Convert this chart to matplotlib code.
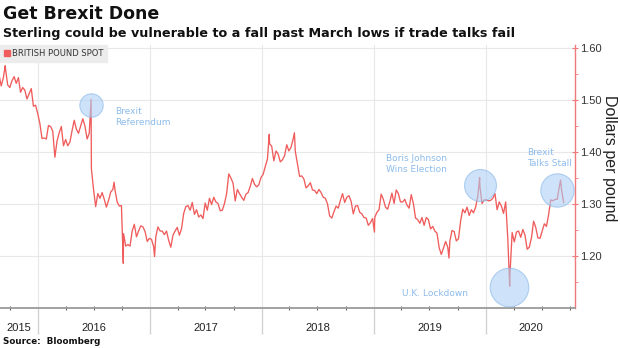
import matplotlib
matplotlib.use("Agg")
import matplotlib.pyplot as plt
import matplotlib.dates as mdates
from matplotlib.lines import Line2D
import pandas as pd

# GBP/USD spot, weekly (Friday) values by calendar year
gbp_2015 = [1.548, 1.527, 1.543, 1.560, 1.529, 1.524, 1.537, 1.545, 1.532, 1.543,
            1.515, 1.524, 1.519, 1.502, 1.512, 1.522, 1.488, 1.490]
gbp_2016 = [1.474, 1.455, 1.426, 1.427, 1.425,
            1.451, 1.449, 1.440, 1.390,
            1.421, 1.437, 1.449, 1.412,
            1.424, 1.412, 1.419, 1.441, 1.461,
            1.444, 1.436, 1.450, 1.464,
            1.450, 1.425, 1.436, 1.368,
            1.328, 1.295, 1.320, 1.311, 1.322,
            1.309, 1.294, 1.307, 1.323,
            1.328, 1.327, 1.304, 1.296, 1.297,
            1.243, 1.219, 1.222, 1.219,
            1.248, 1.261, 1.237, 1.248,
            1.258, 1.256, 1.247, 1.228, 1.234]
gbp_2017 = [1.232, 1.218, 1.237, 1.256,
            1.248, 1.248, 1.241, 1.248,
            1.230, 1.217, 1.240, 1.248, 1.255,
            1.240, 1.253, 1.282, 1.295,
            1.297, 1.288, 1.303, 1.280,
            1.289, 1.275, 1.279, 1.272, 1.302,
            1.288, 1.311, 1.299, 1.313,
            1.304, 1.301, 1.287, 1.288,
            1.301, 1.320, 1.358, 1.350, 1.340,
            1.306, 1.328, 1.320, 1.313,
            1.307, 1.319, 1.322, 1.334,
            1.349, 1.338, 1.333, 1.337, 1.351]
gbp_2018 = [1.357, 1.372, 1.386, 1.416,
            1.411, 1.383, 1.402, 1.396,
            1.381, 1.385, 1.393, 1.414, 1.402,
            1.409, 1.425, 1.401, 1.377,
            1.353, 1.354, 1.348, 1.331,
            1.335, 1.341, 1.327, 1.326, 1.320,
            1.328, 1.322, 1.313, 1.311,
            1.300, 1.277, 1.273, 1.285, 1.296,
            1.292, 1.307, 1.320, 1.303,
            1.313, 1.316, 1.305, 1.281,
            1.296, 1.297, 1.284, 1.281, 1.274,
            1.273, 1.259, 1.264, 1.272]
gbp_2019 = [1.274, 1.284, 1.289, 1.319,
            1.309, 1.294, 1.290, 1.304,
            1.321, 1.301, 1.327, 1.320, 1.304,
            1.304, 1.309, 1.298, 1.292,
            1.318, 1.301, 1.273, 1.270, 1.263,
            1.274, 1.259, 1.274, 1.270,
            1.252, 1.257, 1.248, 1.244,
            1.216, 1.203, 1.215, 1.228, 1.217,
            1.229, 1.249, 1.247, 1.229,
            1.233, 1.267, 1.290, 1.283,
            1.294, 1.278, 1.289, 1.283, 1.294,
            1.315, 1.333, 1.301, 1.308]
gbp_2020 = [1.308, 1.306, 1.307, 1.311, 1.320,
            1.289, 1.304, 1.296, 1.282,
            1.304, 1.232, 1.165, 1.245,
            1.227, 1.246, 1.248, 1.236,
            1.251, 1.240, 1.213, 1.217, 1.235,
            1.267, 1.255, 1.235, 1.234,
            1.248, 1.262, 1.257, 1.280, 1.308,
            1.306, 1.309, 1.309, 1.334,
            1.328, 1.303]
year_first_friday = ["2015-08-28", "2016-01-01", "2017-01-06",
                     "2018-01-05", "2019-01-04", "2020-01-03"]

# Intraweek highs and lows
extreme_dates = ["2015-09-17", "2016-06-23", "2016-09-06", "2016-10-06",
                 "2017-01-16", "2018-01-25", "2018-04-17", "2019-01-03",
                 "2019-09-03", "2019-12-12", "2020-03-19", "2020-09-01"]
extreme_values = [1.566, 1.501, 1.342, 1.186,
                  1.199, 1.434, 1.437, 1.246,
                  1.196, 1.351, 1.142, 1.346]

# Highlighted events
event_labels = ["Brexit\nReferendum", "Boris Johnson\nWins Election",
                "U.K. Lockdown", "Brexit\nTalks Stall"]
event_dates = ["2016-06-24", "2019-12-14", "2020-03-18", "2020-08-21"]
event_values = [1.490, 1.337, 1.141, 1.327]
event_radius_px = [11.7, 16.0, 19.3, 16.7]
label_dates = ["2016-09-09", "2019-02-11", "2019-04-02", "2020-05-14"]
label_values = [1.467, 1.377, 1.128, 1.389]

year_labels = ["2015", "2016", "2017", "2018", "2019", "2020"]
y_ticks = [1.20, 1.30, 1.40, 1.50, 1.60]

# Assemble the series
parts = []
for start, vals in zip(year_first_friday,
                       [gbp_2015, gbp_2016, gbp_2017, gbp_2018, gbp_2019, gbp_2020]):
    idx = pd.date_range(start, periods=len(vals), freq="W-FRI")
    parts.append(pd.Series(vals, index=idx))
parts.append(pd.Series(extreme_values, index=pd.to_datetime(extreme_dates)))
series = pd.concat(parts).sort_index()

DPI = 100
W, H = 620, 348
fig = plt.figure(figsize=(W / DPI, H / DPI), dpi=DPI)
ax_left, ax_right, ax_top, ax_bottom = 0, 575, 45, 308
ax = fig.add_axes([ax_left / W, 1 - ax_bottom / H,
                   (ax_right - ax_left) / W, (ax_bottom - ax_top) / H])

LINE = "#f05c5c"
BLUE_TXT = "#8dbbea"
TICK_FONT = "Liberation Sans"

ax.plot(series.index, series.values, color=LINE, lw=0.95, zorder=3)

ax.set_xlim(pd.Timestamp("2015-08-31"), pd.Timestamp("2020-10-18"))
ax.set_ylim(1.10, 1.6058)

# Grid
ax.set_axisbelow(True)
ax.grid(True, which="major", axis="both", color="#e8e8e8", lw=0.8)

# Spines
for s in ["left", "top"]:
    ax.spines[s].set_visible(False)
ax.spines["right"].set_color("#f07a7a")
ax.spines["right"].set_linewidth(1.0)
ax.spines["bottom"].set_color("#9a9a9a")
ax.spines["bottom"].set_linewidth(1.3)

# Y axis on the right
ax.yaxis.tick_right()
ax.set_yticks(y_ticks)
ax.set_yticklabels([f"{v:.2f}" for v in y_ticks])
ax.set_yticks([1.15, 1.25, 1.35, 1.45, 1.55], minor=True)
ax.tick_params(axis="y", which="major", direction="inout", length=4, width=0.8,
               color="#f07a7a", labelcolor="#333333", labelsize=8, pad=2)
ax.tick_params(axis="y", which="minor", direction="out", length=2, width=0.6,
               color="#f07a7a")
for lbl in ax.get_yticklabels():
    lbl.set_fontfamily(TICK_FONT)
fig.text(609 / W, 1 - 158 / H, "Dollars per pound", rotation=270,
         fontsize=11.5, family=TICK_FONT, color="#222222",
         ha="center", va="center")

# X axis: year separators and quarterly ticks
ax.xaxis.set_major_locator(mdates.YearLocator())
ax.xaxis.set_minor_locator(mdates.MonthLocator(bymonth=[1, 4, 7, 10]))
ax.tick_params(axis="x", which="major", direction="out", length=19, width=0.9,
               color="#cfcfcf", labelbottom=False)
ax.tick_params(axis="x", which="minor", direction="inout", length=3, width=0.7,
               color="#555555")

x0, x1 = ax.get_xlim()
for yl in year_labels:
    a = max(mdates.date2num(pd.Timestamp(f"{yl}-01-01")), x0)
    b = min(mdates.date2num(pd.Timestamp(f"{int(yl) + 1}-01-01")), x1)
    ax.annotate(yl, xy=((a + b) / 2, 0), xycoords=("data", "axes fraction"),
                xytext=(0, -20), textcoords="offset pixels",
                ha="center", va="center", fontsize=8, family=TICK_FONT,
                color="#222222")

# Event circles and labels
for d, v, r in zip(event_dates, event_values, event_radius_px):
    size = (2 * r * 72 / DPI) ** 2
    ax.scatter([pd.Timestamp(d)], [v], s=size, color="#aed0f5", alpha=0.6,
               edgecolors="#86b6ea", linewidths=0.8, zorder=4)
for txt, d, v in zip(event_labels, label_dates, label_values):
    ax.text(pd.Timestamp(d), v, txt, fontsize=6.5, color=BLUE_TXT,
            ha="left", va="center", linespacing=1.35, zorder=5)

# Legend
handle = Line2D([], [], marker="s", linestyle="none", color=LINE, markersize=4)
leg = ax.legend([handle], ["BRITISH POUND SPOT"], loc="upper left",
                bbox_to_anchor=(0, 1), borderaxespad=0, frameon=True,
                fancybox=False, facecolor="#ececec", edgecolor="#ececec",
                framealpha=1, handlelength=0.6, handletextpad=0.3,
                borderpad=0.5, prop={"size": 6})
for t in leg.get_texts():
    t.set_color("#333333")

# Titles and source
fig.text(3 / W, 1 - 14 / H, "Get Brexit Done", fontsize=12.5,
         weight="bold", va="center", color="#111111")
fig.text(3 / W, 1 - 34 / H,
         "Sterling could be vulnerable to a fall past March lows if trade talks fail",
         fontsize=9.2, weight="bold", va="center", color="#111111")
fig.text(3 / W, 1 - 342 / H, "Source:  Bloomberg", fontsize=6.3,
         weight="bold", va="center", color="#111111")

fig.savefig("out.png", dpi=DPI)
